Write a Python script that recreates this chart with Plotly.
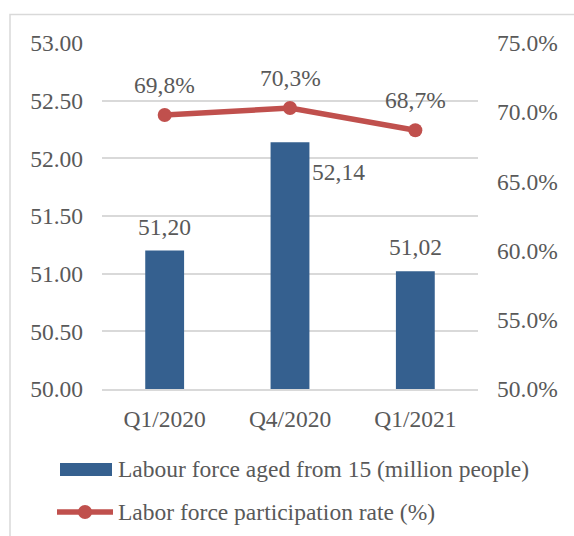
import plotly.graph_objects as go

# Quarterly labour force data
quarters = ["Q1/2020", "Q4/2020", "Q1/2021"]
labour_force = [51.20, 52.14, 51.02]          # million people
participation_rate = [69.8, 70.3, 68.7]       # percent

left_ticks = [50.0, 50.5, 51.0, 51.5, 52.0, 52.5, 53.0]
right_ticks = [50.0, 55.0, 60.0, 65.0, 70.0, 75.0]

BAR_COLOR = "#35608F"
LINE_COLOR = "#C0504D"
TEXT_COLOR = "#595959"
GRID_COLOR = "#D9D9D9"
FONT = "Liberation Serif"
FS = 23.5

W, H = 574, 536
L, R, T, B = 102, 96, 43, 147
PW, PH = W - L - R, H - T - B


def px_to_paper(x, y):
    return (x - L) / PW, (H - B - y) / PH


def comma(v, nd):
    return f"{v:.{nd}f}".replace(".", ",")


fig = go.Figure()

fig.add_trace(go.Bar(
    x=quarters, y=labour_force, marker_color=BAR_COLOR,
    marker_line_width=0, name="Labour force aged from 15 (million people)",
    showlegend=False,
))
fig.add_trace(go.Scatter(
    x=quarters, y=participation_rate, yaxis="y2", mode="lines+markers",
    line=dict(color=LINE_COLOR, width=5.5),
    marker=dict(color=LINE_COLOR, size=14),
    name="Labor force participation rate (%)", showlegend=False,
))

annotations = []
# bar value labels
for i, (q, v) in enumerate(zip(quarters, labour_force)):
    if i == 1:
        annotations.append(dict(x=q, y=v, xref="x", yref="y", text=comma(v, 2),
                                showarrow=False, xanchor="left", yanchor="middle",
                                xshift=20, yshift=-30))
    else:
        annotations.append(dict(x=q, y=v, xref="x", yref="y", text=comma(v, 2),
                                showarrow=False, xanchor="center", yanchor="middle",
                                yshift=24))
# line value labels
for q, v in zip(quarters, participation_rate):
    annotations.append(dict(x=q, y=v, xref="x", yref="y2", text=comma(v, 1) + "%",
                            showarrow=False, xanchor="center", yanchor="middle",
                            yshift=30))

# legend drawn as shapes and text below the plot
shapes = []
bx0, by0 = px_to_paper(60, 476)
bx1, by1 = px_to_paper(112, 463)
shapes.append(dict(type="rect", xref="paper", yref="paper", x0=bx0, x1=bx1,
                   y0=by0, y1=by1, fillcolor=BAR_COLOR, line_width=0))
lx0, ly = px_to_paper(57, 512)
lx1, _ = px_to_paper(113, 512)
shapes.append(dict(type="line", xref="paper", yref="paper", x0=lx0, x1=lx1,
                   y0=ly, y1=ly, line=dict(color=LINE_COLOR, width=5.5)))
mx, _ = px_to_paper(85, 512)
shapes.append(dict(type="circle", xref="paper", yref="paper",
                   xsizemode="pixel", ysizemode="pixel", xanchor=mx, yanchor=ly,
                   x0=-7, x1=7, y0=-7, y1=7, fillcolor=LINE_COLOR, line_width=0))
tx, ty1 = px_to_paper(116, 469)
annotations.append(dict(x=tx, y=ty1, xref="paper", yref="paper",
                        text="Labour force aged from 15 (million people)",
                        showarrow=False, xanchor="left", yanchor="middle"))
_, ty2 = px_to_paper(116, 512)
annotations.append(dict(x=tx, y=ty2, xref="paper", yref="paper",
                        text="Labor force participation rate (%)",
                        showarrow=False, xanchor="left", yanchor="middle"))

# outer chart frame
fx0, fy1 = px_to_paper(10, 14.5)
fx1, fy0 = px_to_paper(590, 560)
shapes.append(dict(type="rect", xref="paper", yref="paper", x0=fx0, x1=fx1,
                   y0=fy0, y1=fy1, line=dict(color=GRID_COLOR, width=1.5),
                   fillcolor="rgba(0,0,0,0)", layer="below"))

fig.update_layout(
    width=W, height=H,
    margin=dict(l=L, r=R, t=T, b=B, pad=0),
    paper_bgcolor="white", plot_bgcolor="white",
    font=dict(family=FONT, size=FS, color=TEXT_COLOR),
    bargap=0.69,
    showlegend=False,
    xaxis=dict(showgrid=False, showline=True, linecolor=GRID_COLOR, linewidth=1.5,
               ticks="", ticklabelstandoff=8, tickfont=dict(size=FS, family=FONT)),
    yaxis=dict(range=[50, 53], tickvals=left_ticks, tickformat=".2f",
               tickfont=dict(size=FS, family=FONT),
               showgrid=True, gridcolor=GRID_COLOR, gridwidth=1.5,
               zeroline=False, showline=False, ticks="", ticklabelstandoff=18),
    yaxis2=dict(range=[50, 75], tickvals=right_ticks,
                ticktext=[f"{v:.1f}%" for v in right_ticks],
                tickfont=dict(size=FS, family=FONT),
                overlaying="y", side="right", showgrid=False, zeroline=False,
                showline=False, ticks="", ticklabelstandoff=18),
    annotations=annotations,
    shapes=shapes,
)

fig.write_html("out.html")
